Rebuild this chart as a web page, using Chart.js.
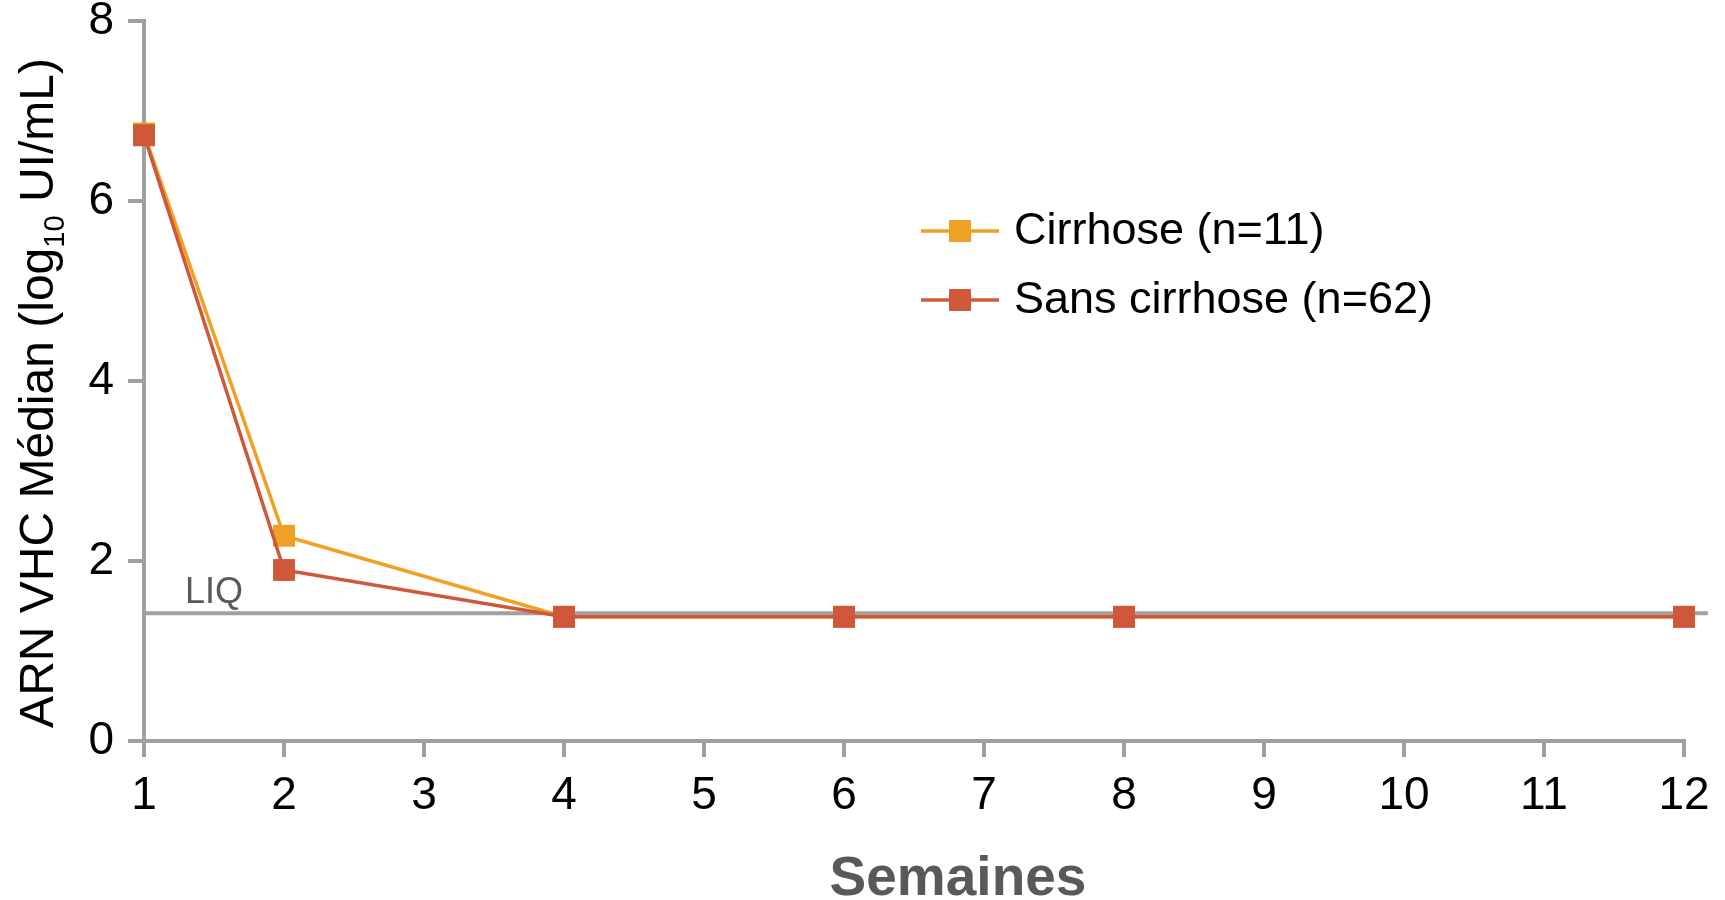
<!DOCTYPE html>
<html>
<head>
<meta charset="utf-8">
<script src="https://cdn.jsdelivr.net/npm/chart.js@4/dist/chart.umd.min.js"></script>
<style>
  html, body { margin: 0; padding: 0; background: #fff; }
  #wrap { width: 1725px; height: 900px; position: relative; }
</style>
</head>
<body>
<div id="wrap"><canvas id="hcvChart"></canvas></div>
<script>
// weeks and median HCV RNA (log10 UI/mL)
const weeks = [1, 2, 4, 6, 8, 12];
const cirrhose = [6.75, 2.28, 1.38, 1.38, 1.38, 1.38];
const sansCirrhose = [6.73, 1.90, 1.38, 1.38, 1.38, 1.38];
const seriesLabels = ['Cirrhose (n=11)', 'Sans cirrhose (n=62)'];
const liqValue = 1.42;
const liqRange = [1, 12.17];
const xTicks = [1, 2, 3, 4, 5, 6, 7, 8, 9, 10, 11, 12];
const yTicks = [0, 2, 4, 6, 8];

const ORANGE = '#F0A024';
const RED = '#CF583A';
const GRAY = '#A0A0A0';
const FONT = '"Liberation Sans", Arial, Helvetica, sans-serif';

function toPoints(xs, ys) {
    return xs.map((x, i) => ({ x: x, y: ys[i] }));
}

// axis titles, LIQ label and legend drawn on top of the chart
const decorations = {
    id: 'decorations',
    afterDraw(chart) {
        const ctx = chart.ctx;
        const area = chart.chartArea;
        const ys = chart.scales.y;

        // y axis title with subscript
        ctx.save();
        const midY = (area.top + area.bottom) / 2 + 12;
        ctx.translate(53, midY);
        ctx.rotate(-Math.PI / 2);
        ctx.fillStyle = '#000';
        ctx.textBaseline = 'alphabetic';
        const partA = 'ARN VHC Médian (log';
        const partSub = '10';
        const partB = ' UI/mL)';
        ctx.font = '48px ' + FONT;
        const wA = ctx.measureText(partA).width;
        const wB = ctx.measureText(partB).width;
        ctx.font = '29px ' + FONT;
        const wSub = ctx.measureText(partSub).width;
        let x0 = -(wA + wSub + wB) / 2;
        ctx.font = '48px ' + FONT;
        ctx.fillText(partA, x0, 0);
        x0 += wA;
        ctx.font = '29px ' + FONT;
        ctx.fillText(partSub, x0, 11);
        x0 += wSub;
        ctx.font = '48px ' + FONT;
        ctx.fillText(partB, x0, 0);
        ctx.restore();

        // x axis title
        ctx.save();
        ctx.font = 'bold 55px ' + FONT;
        ctx.fillStyle = '#595959';
        ctx.textAlign = 'center';
        ctx.textBaseline = 'alphabetic';
        ctx.fillText('Semaines', (area.left + area.right) / 2 + 44, 895);
        ctx.restore();

        // LIQ label
        ctx.save();
        ctx.font = '36px ' + FONT;
        ctx.fillStyle = '#595959';
        ctx.textBaseline = 'alphabetic';
        ctx.fillText('LIQ', area.left + 41, ys.getPixelForValue(liqValue) - 10);
        ctx.restore();

        // legend: line sample + square marker + label
        const rows = [
            { color: ORANGE, label: seriesLabels[0], y: 231 },
            { color: RED, label: seriesLabels[1], y: 300 }
        ];
        rows.forEach(r => {
            ctx.save();
            ctx.strokeStyle = r.color;
            ctx.lineWidth = 3.5;
            ctx.beginPath();
            ctx.moveTo(921, r.y);
            ctx.lineTo(999, r.y);
            ctx.stroke();
            ctx.fillStyle = r.color;
            ctx.fillRect(960 - 11, r.y - 11, 22, 22);
            ctx.font = '45px ' + FONT;
            ctx.fillStyle = '#000';
            ctx.textBaseline = 'middle';
            ctx.fillText(r.label, 1014, r.y + 1);
            ctx.restore();
        });
    }
};

const ctx = document.getElementById('hcvChart').getContext('2d');
new Chart(ctx, {
    type: 'line',
    data: {
        datasets: [
            {
                label: seriesLabels[1],
                data: toPoints(weeks, sansCirrhose),
                borderColor: RED,
                backgroundColor: RED,
                borderWidth: 3.5,
                pointStyle: 'rect',
                pointRadius: 15.5,
                pointBorderWidth: 0,
                pointBackgroundColor: RED,
                tension: 0,
                clip: false,
                order: 1
            },
            {
                label: seriesLabels[0],
                data: toPoints(weeks, cirrhose),
                borderColor: ORANGE,
                backgroundColor: ORANGE,
                borderWidth: 3.5,
                pointStyle: 'rect',
                pointRadius: 15.5,
                pointBorderWidth: 0,
                pointBackgroundColor: ORANGE,
                tension: 0,
                clip: false,
                order: 2
            },
            {
                label: 'LIQ',
                data: liqRange.map(x => ({ x: x, y: liqValue })),
                borderColor: GRAY,
                borderWidth: 4,
                pointRadius: 0,
                clip: false,
                order: 3
            }
        ]
    },
    options: {
        responsive: true,
        maintainAspectRatio: false,
        animation: false,
        layout: {
            padding: { top: 21, right: 41, left: 0, bottom: 0 }
        },
        plugins: {
            legend: { display: false },
            tooltip: { enabled: false },
            title: { display: false }
        },
        scales: {
            x: {
                type: 'linear',
                min: xTicks[0],
                max: xTicks[xTicks.length - 1],
                afterBuildTicks: function(scale) {
                    scale.ticks = xTicks.map(v => ({ value: v }));
                },
                afterFit: function(scale) {
                    scale.height = 159;
                    scale.paddingLeft = 0;
                    scale.paddingRight = 0;
                },
                border: { display: true, color: GRAY, width: 4 },
                grid: {
                    display: true,
                    drawOnChartArea: false,
                    drawTicks: true,
                    tickLength: 16,
                    color: GRAY,
                    lineWidth: 4
                },
                ticks: {
                    autoSkip: false,
                    maxRotation: 0,
                    padding: 12,
                    color: '#000',
                    font: { family: FONT, size: 46 }
                }
            },
            y: {
                min: yTicks[0],
                max: yTicks[yTicks.length - 1],
                afterBuildTicks: function(scale) {
                    scale.ticks = yTicks.map(v => ({ value: v }));
                },
                afterFit: function(scale) {
                    scale.width = 144;
                    scale.paddingTop = 0;
                    scale.paddingBottom = 0;
                },
                border: { display: true, color: GRAY, width: 4 },
                grid: {
                    display: true,
                    drawOnChartArea: false,
                    drawTicks: true,
                    tickLength: 16,
                    color: GRAY,
                    lineWidth: 4
                },
                ticks: {
                    padding: 14,
                    color: '#000',
                    font: { family: FONT, size: 46 }
                }
            }
        }
    },
    plugins: [decorations]
});
</script>
</body>
</html>
